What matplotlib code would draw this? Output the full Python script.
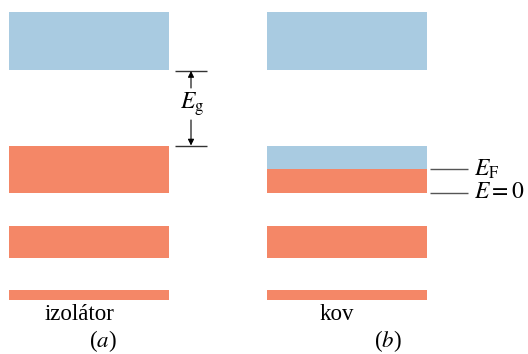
import matplotlib.pyplot as plt

plt.rcParams['font.family'] = ['Liberation Serif', 'DejaVu Serif']
plt.rcParams['mathtext.fontset'] = 'stix'

BLUE = "#a9cbe1"
ORANGE = "#f48767"

# band edges (energy axis measured downward, in figure units)
columns = ["izolátor", "kov"]
panel_tags = ["a", "b"]
col_left = [9, 267]
col_width = 160
# (top, bottom, colour) for each column
bands_a = [(12, 70, BLUE), (146, 193, ORANGE), (226, 258, ORANGE), (290, 300, ORANGE)]
bands_b = [(12, 70, BLUE), (146, 169, BLUE), (169, 193, ORANGE), (226, 258, ORANGE), (290, 300, ORANGE)]

fig = plt.figure(figsize=(5.28, 3.54), dpi=100)
ax = fig.add_axes([0, 0, 1, 1])
ax.set_xlim(0, 528)
ax.set_ylim(354, 0)
ax.axis("off")

for left, bands in zip(col_left, [bands_a, bands_b]):
    for top, bot, c in bands:
        ax.bar(left, bot - top, width=col_width, bottom=top, align="edge", color=c, linewidth=0)

# band gap marker
gap_top, gap_bot = bands_a[0][1], bands_a[1][0]
ax.hlines([gap_top + 0.5, gap_bot], 175, 207, color="#333333", lw=1)
arrow = dict(arrowstyle="-|>", color="black", lw=0.8, mutation_scale=9, shrinkA=0, shrinkB=0)
ax.annotate("", xy=(191, gap_top + 1), xytext=(191, 88), arrowprops=arrow)
ax.annotate("", xy=(191, gap_bot - 0.5), xytext=(191, 120), arrowprops=arrow)
ax.text(192, 104, r"$E_{\mathrm{g}}$", fontsize=17, ha="center", va="center")

# Fermi level and zero in metal
ef, e0 = bands_b[1][1], bands_b[2][1]
ax.hlines([ef, e0], 430, 468, color="#555555", lw=1)
ax.text(474, ef, r"$E_{\mathrm{F}}$", fontsize=17, ha="left", va="center")
ax.text(474, e0, r"$E=0$", fontsize=17, ha="left", va="center")

# labels
ax.text(80, 320, columns[0], fontsize=16.5, ha="center", va="baseline")
ax.text(337, 320, columns[1], fontsize=16.5, ha="center", va="baseline")
ax.text(103, 347, "(" + r"$%s$" % panel_tags[0] + ")", fontsize=16.5, ha="center", va="baseline")
ax.text(388, 347, "(" + r"$%s$" % panel_tags[1] + ")", fontsize=16.5, ha="center", va="baseline")

fig.savefig("out.png", dpi=100)
